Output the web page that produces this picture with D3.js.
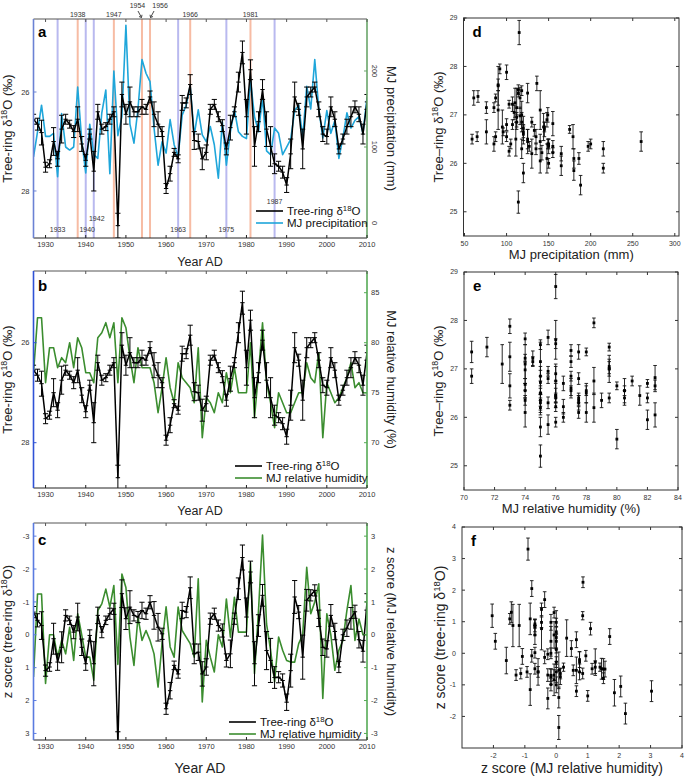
<!DOCTYPE html>
<html><head><meta charset="utf-8">
<script src="https://cdn.jsdelivr.net/npm/d3@7"></script>
<style>body{margin:0;background:#fff}svg{display:block;font-family:"Liberation Sans",Arial,Helvetica,sans-serif}</style>
</head><body><svg id="chart" width="685" height="778"></svg>
<script>
// ---------------- DATA ----------------
const years = d3.range(1927, 2011);
const d18O = [
 26.55,26.65,26.82,27.52,27.45,27.0,27.35,26.75,26.55,26.65,
 26.8,26.55,27.05,27.38,26.85,27.6,26.4,26.75,26.7,26.55,
 26.4,28.7,26.05,26.45,26.2,26.4,26.4,26.3,26.35,26.1,
 26.45,26.65,26.8,27.95,27.65,27.22,27.35,26.22,26.22,25.85,
 26.98,27.0,27.35,27.22,26.35,26.25,26.5,26.68,27.15,26.72,
 26.4,25.8,25.2,26.5,25.55,27.1,26.6,25.95,26.75,27.1,
 27.45,27.5,27.62,27.88,27.25,26.1,26.35,27.15,26.1,26.0,
 25.9,26.35,26.85,26.9,26.3,26.55,27.15,26.95,26.7,26.5,
 26.3,26.45,26.85,26.2];
const d18OErr = [
 0.1,0.12,0.25,0.1,0.08,0.28,0.15,0.28,0.1,0.08,
 0.12,0.25,0.15,0.12,0.1,0.4,0.15,0.1,0.08,0.1,
 0.1,0.25,0.25,0.2,0.3,0.1,0.1,0.15,0.1,0.12,
 0.25,0.25,0.1,0.1,0.15,0.08,0.08,0.15,0.1,0.2,
 0.18,0.15,0.22,0.15,0.1,0.1,0.1,0.12,0.12,0.25,
 0.1,0.2,0.23,0.35,0.2,0.4,0.2,0.2,0.35,0.4,
 0.2,0.1,0.12,0.15,0.3,0.3,0.12,0.4,0.2,0.1,
 0.1,0.15,0.15,0.15,0.2,0.15,0.1,0.1,0.15,0.2,
 0.12,0.15,0.2,0.15];
const precip = [
 87,120,155,114,114,118,61,144,100,96,
 100,179,109,66,130,90,85,145,175,65,
 200,115,140,260,130,105,150,215,197,186,
 125,76,107,92,136,103,87,142,155,180,
 116,149,116,107,127,103,59,133,76,120,
 149,120,114,111,188,140,120,165,95,90,
 125,118,90,100,110,148,155,112,180,150,
 215,150,112,148,118,135,85,112,145,125,
 135,140,118,165];
const rh = [
 77,82.5,82.5,76,79.5,79.5,77.5,78.5,78,80,
 77.5,80.5,79.5,77,77,76,80.5,81,82,80.5,
 82,76,82.5,81.5,78.5,76,79.5,77.5,77.5,77.5,
 76,73,75.5,78.5,75.5,74,78,76.5,76,75.5,
 74,79.5,70.5,74.5,74,73,75,74,77,75,
 77.5,75,75,75,80,72.5,77,82,76,74,
 71.5,75,74,73,73,74,75,75,78,76.5,
 76,79,70.5,76,75,74,74.5,75.5,76.5,78,
 75.5,76,75,75];
const zD18O = [
 -0.69,-0.44,-0.28,1.09,0.98,0.12,0.83,0.38,-0.59,-0.44,
 -0.08,-0.54,0.38,0.88,0.02,0.88,-0.59,-0.08,-0.44,-0.64,
 -0.79,3.3,-1.25,-0.49,-0.84,-0.59,-0.54,-0.74,-0.64,-0.99,
 -0.59,-0.23,-0.03,2.25,1.7,0.93,1.19,-0.74,-0.69,-1.43,
 0.58,0.53,1.19,0.98,-0.49,-0.64,-0.28,-0.13,0.78,0.58,
 -0.49,-1.4,-2.35,-0.54,-1.91,0.88,-0.28,-1.2,0.48,0.78,
 1.3,1.29,1.39,2.05,1.09,-1.15,-0.69,0.68,-1.05,-1.2,
 -1.35,-0.5,0.38,0.43,-0.59,-0.1,0.98,0.0,-0.2,-0.5,
 -0.7,0.15,0.5,-1.0];
const zD18OErr = [
 0.17,0.2,0.42,0.17,0.13,0.47,0.25,0.47,0.17,0.13,
 0.2,0.42,0.25,0.2,0.17,0.67,0.25,0.17,0.13,0.17,
 0.17,0.35,0.42,0.33,0.5,0.17,0.17,0.25,0.17,0.2,
 0.42,0.42,0.17,0.17,0.25,0.13,0.13,0.25,0.17,0.33,
 0.3,0.25,0.37,0.25,0.17,0.17,0.17,0.2,0.2,0.42,
 0.17,0.33,0.38,0.58,0.33,0.67,0.33,0.33,0.58,0.67,
 0.33,0.17,0.2,0.25,0.5,0.5,0.2,0.67,0.33,0.17,
 0.17,0.25,0.25,0.25,0.33,0.25,0.17,0.17,0.25,0.33,
 0.2,0.25,0.33,0.25];
const zRH = [
 -1.28,1.24,1.24,-1.48,0.0,0.0,-0.68,-0.17,-0.58,0.23,
 -0.78,0.64,0.0,-0.68,-0.68,-1.38,0.74,0.94,1.39,0.84,
 1.5,-0.9,1.85,1.44,-0.07,-0.93,0.54,-0.17,0.13,-0.17,
 -0.58,-1.59,-0.27,0.85,-0.37,-0.68,0.84,0.13,-0.07,-0.27,
 -0.68,1.7,-2.04,-0.17,-0.68,-1.13,0.0,-0.37,1.09,-0.07,
 1.14,0.08,0.08,0.08,2.2,-1.18,0.74,3.03,0.33,-0.47,
 -1.43,-0.07,-0.47,-0.78,-0.83,-0.83,-0.27,0.0,2.05,0.64,
 1.0,1.55,-1.94,0.64,0.0,-1.08,-0.47,-0.17,0.74,1.5,
 -0.17,0.48,0.0,0.0];
const wetYears = [1933,1940,1942,1963,1975,1987];
const dryYears = [1938,1947,1954,1956,1966,1981];
const decadeTicks = [1930,1940,1950,1960,1970,1980,1990,2000,2010];
const d18OTicks = [26,28];
const precipTicks = [0,100,200];
const rhTicks = [70,75,80,85];
const zTicks = [-3,-2,-1,0,1,2,3];

// ---------------- DRAW ----------------
const svg = d3.select("#chart");
const defs = svg.append("defs");
const X0 = 33.5, X1 = 367;
const x = d3.scaleLinear().domain([1927, 2010]).range([X0, X1]);
const FONT_TICK = 7.5;

function supText(sel, before, sup, after, fs) {
  sel.append("tspan").text(before);
  sel.append("tspan").attr("font-size", fs*0.68).attr("dy", -fs*0.38).text(sup);
  sel.append("tspan").attr("dy", fs*0.38).text(after);
}

function tsPanel(c) {
  const g = svg.append("g");
  defs.append("clipPath").attr("id", c.id).append("rect")
    .attr("x", X0).attr("y", c.top).attr("width", X1 - X0).attr("height", c.bottom - c.top);
  const clip = g.append("g").attr("clip-path", `url(#${c.id})`);
  if (c.extra) c.extra(clip, g);
  clip.append("path").datum(c.second)
    .attr("d", d3.line().x((d,i)=>x(years[i])).y(d=>c.yR(d)))
    .attr("fill","none").attr("stroke", c.secondColor).attr("stroke-width",1.6).attr("stroke-linejoin","round");
  clip.append("path").datum(c.main)
    .attr("d", d3.line().x((d,i)=>x(years[i])).y(d=>c.yL(d)))
    .attr("fill","none").attr("stroke","#000").attr("stroke-width",1.5).attr("stroke-linejoin","round");
  const eb = clip.append("g").attr("stroke","#000").attr("stroke-width",1);
  const pts = years.map((yr,i)=>({x:x(yr), v:c.main[i], e:c.mainErr[i]}));
  const capW = 2.6;
  eb.selectAll("line.v").data(pts).join("line").attr("x1",d=>d.x).attr("x2",d=>d.x)
    .attr("y1",d=>c.yL(d.v-d.e)).attr("y2",d=>c.yL(d.v+d.e));
  eb.selectAll("line.c1").data(pts).join("line").attr("x1",d=>d.x-capW).attr("x2",d=>d.x+capW)
    .attr("y1",d=>c.yL(d.v-d.e)).attr("y2",d=>c.yL(d.v-d.e));
  eb.selectAll("line.c2").data(pts).join("line").attr("x1",d=>d.x-capW).attr("x2",d=>d.x+capW)
    .attr("y1",d=>c.yL(d.v+d.e)).attr("y2",d=>c.yL(d.v+d.e));
  eb.selectAll("line.m").data(pts).join("line").attr("x1",d=>d.x-2.2).attr("x2",d=>d.x+2.2)
    .attr("y1",d=>c.yL(d.v)).attr("y2",d=>c.yL(d.v));

  g.append("line").attr("x1",X0).attr("x2",X1).attr("y1",c.top).attr("y2",c.top).attr("stroke","#555").attr("stroke-width",1);
  g.append("line").attr("x1",X0).attr("x2",X1).attr("y1",c.bottom).attr("y2",c.bottom).attr("stroke","#222").attr("stroke-width",1);
  g.append("line").attr("x1",X0).attr("x2",X0).attr("y1",c.top).attr("y2",c.bottom).attr("stroke",c.leftColor).attr("stroke-width",1.6);
  g.append("line").attr("x1",X1).attr("x2",X1).attr("y1",c.top).attr("y2",c.bottom).attr("stroke",c.rightColor).attr("stroke-width",1.6);

  decadeTicks.forEach(t=>{
    g.append("line").attr("x1",x(t)).attr("x2",x(t)).attr("y1",c.bottom).attr("y2",c.bottom-3).attr("stroke","#222");
    g.append("line").attr("x1",x(t)).attr("x2",x(t)).attr("y1",c.top).attr("y2",c.top+3).attr("stroke","#555");
    g.append("text").attr("x",x(t)).attr("y",c.bottom+9).attr("text-anchor","middle")
      .attr("font-size",FONT_TICK).attr("fill","#333").text(t);
  });
  c.leftTicks.forEach(t=>{
    g.append("line").attr("x1",X0).attr("x2",X0+3).attr("y1",c.yL(t)).attr("y2",c.yL(t)).attr("stroke",c.leftColor);
    g.append("text").attr("x",X0-4).attr("y",c.yL(t)+2.6).attr("text-anchor","end")
      .attr("font-size",FONT_TICK).attr("fill","#333").text(t);
  });
  c.rightTicks.forEach(t=>{
    g.append("line").attr("x1",X1).attr("x2",X1-3).attr("y1",c.yR(t)).attr("y2",c.yR(t)).attr("stroke",c.rightColor);
    if (c.rightRotate) {
      g.append("text").attr("transform",`translate(${X1+5},${c.yR(t)}) rotate(90)`).attr("text-anchor","middle")
        .attr("font-size",FONT_TICK).attr("fill","#333").text(t);
    } else {
      g.append("text").attr("x",X1+4).attr("y",c.yR(t)+2.6).attr("text-anchor","start")
        .attr("font-size",FONT_TICK).attr("fill","#333").text(t);
    }
  });
  g.append("text").attr("x",38).attr("y",c.letterY).attr("font-size",15).attr("font-weight","bold").text(c.letter);
  const mid = (c.top + c.bottom)/2;
  const lt = g.append("text").attr("transform",`translate(12,${mid}) rotate(-90)`).attr("text-anchor","middle")
    .attr("font-size",13).attr("fill","#222");
  c.leftTitle(lt);
  g.append("text").attr("transform",`translate(387,${mid}) rotate(90)`).attr("text-anchor","middle")
    .attr("font-size",13).attr("fill","#222").text(c.rightTitle);
  g.append("text").attr("x",200).attr("y",c.yearY).attr("text-anchor","middle").attr("font-size",c.yearFs||12.5).attr("fill","#222").text("Year AD");
  const lx = c.legendX, ly = c.legendY;
  g.append("line").attr("x1",lx).attr("x2",lx+27).attr("y1",ly).attr("y2",ly).attr("stroke","#000").attr("stroke-width",1.6);
  g.append("line").attr("x1",lx).attr("x2",lx+27).attr("y1",ly+12).attr("y2",ly+12).attr("stroke",c.secondColor).attr("stroke-width",1.6);
  const t1 = g.append("text").attr("x",lx+31).attr("y",ly+4).attr("font-size",11.5).attr("fill","#111");
  supText(t1, "Tree-ring δ", "18", "O", 11.5);
  g.append("text").attr("x",lx+31).attr("y",ly+16).attr("font-size",11.5).attr("fill","#111").text(c.legend2);
}

// Panel a
const yA = d3.scaleLinear().domain([24.525, 28.95]).range([19, 238]);
const yAR = d3.scaleLinear().domain([268.4, -19.7]).range([19, 238]);
tsPanel({
  id:"clipA", top:19, bottom:238, yL:yA, yR:yAR, main:d18O, mainErr:d18OErr, second:precip,
  secondColor:"#1fa6da", leftColor:"#6b82d4", rightColor:"#6aa56a",
  leftTicks:d18OTicks, rightTicks:precipTicks, rightRotate:true,
  letter:"a", letterY:37,
  leftTitle: s=>supText(s,"Tree-ring δ","18","O (‰)",13),
  rightTitle:"MJ precipitation (mm)", yearY:266,
  legendX:256, legendY:211, legend2:"MJ precipitation",
  extra:(clip,g)=>{
    wetYears.forEach(yr=>clip.append("line").attr("x1",x(yr)).attr("x2",x(yr)).attr("y1",19).attr("y2",238)
      .attr("stroke","#b9b9ef").attr("stroke-width",2));
    dryYears.forEach(yr=>clip.append("line").attr("x1",x(yr)).attr("x2",x(yr)).attr("y1",19).attr("y2",238)
      .attr("stroke","#f7bca4").attr("stroke-width",2));
  }
});
(function(){
  const g = svg.append("g").attr("font-size",7).attr("fill","#333").attr("text-anchor","middle");
  [[1938,17],[1947,17],[1966,17],[1981,17]].forEach(([yr,yy])=>g.append("text").attr("x",x(yr)).attr("y",yy).text(yr));
  g.append("text").attr("x",x(1954)-4.5).attr("y",8).text(1954);
  g.append("text").attr("x",x(1956)+10).attr("y",8).text(1956);
  const arr = g.append("g").attr("stroke","#333").attr("stroke-width",0.9).attr("fill","none");
  arr.append("path").attr("d",`M${x(1954)-4},11 L${x(1954)-0.5},17.5 M${x(1954)-3},16.5 L${x(1954)-0.5},17.5 L${x(1954)},14.8`);
  arr.append("path").attr("d",`M${x(1956)+4},11 L${x(1956)+0.5},17.5 M${x(1956)+3},16.5 L${x(1956)+0.5},17.5 L${x(1956)},14.8`);
  [[1933,232],[1940,232],[1963,232],[1975,232],[1942,221],[1987,204]].forEach(([yr,yy])=>{
    const dx = yr===1940 ? 1.5 : (yr===1942 ? 3 : 0);
    g.append("text").attr("x",x(yr)+dx).attr("y",yy).text(yr);
  });
})();

// Panel b
const yB = d3.scaleLinear().domain([24.566, 28.906]).range([271, 488]);
const yBR = d3.scaleLinear().domain([87.17, 65.47]).range([271, 488]);
tsPanel({
  id:"clipB", top:271, bottom:488, yL:yB, yR:yBR, main:d18O, mainErr:d18OErr, second:rh,
  secondColor:"#3b8d2f", leftColor:"#2f52d6", rightColor:"#55aa55",
  leftTicks:d18OTicks, rightTicks:rhTicks, rightRotate:false,
  letter:"b", letterY:291,
  leftTitle: s=>supText(s,"Tree-ring δ","18","O (‰)",13),
  rightTitle:"MJ relative humidity (%)", yearY:515,
  legendX:235, legendY:466, legend2:"MJ relative humidity"
});

// Panel c
const yC = d3.scaleLinear().domain([-3.4, 3.2]).range([523, 740]);
const yCR = d3.scaleLinear().domain([3.4, -3.2]).range([523, 740]);
tsPanel({
  id:"clipC", top:523, bottom:740, yL:yC, yR:yCR, main:zD18O, mainErr:zD18OErr, second:zRH,
  secondColor:"#3b8d2f", leftColor:"#5a7be0", rightColor:"#55aa55",
  leftTicks:zTicks, rightTicks:zTicks, rightRotate:false,
  letter:"c", letterY:545,
  leftTitle: s=>supText(s,"z socre (tree-ring δ","18","O)",13),
  rightTitle:"z score (MJ relative humidity)", yearY:773, yearFs:14,
  legendX:229, legendY:722, legend2:"MJ relative humidity"
});

// ---------------- SCATTER PANELS ----------------
function scatterPanel(o) {
  const sx = d3.scaleLinear().domain(o.xDom).range([o.x0, o.x1]);
  const sy = d3.scaleLinear().domain(o.yDom).range([o.y1, o.y0]);
  const g = svg.append("g");
  g.append("rect").attr("x",o.x0).attr("y",o.y0).attr("width",o.x1-o.x0).attr("height",o.y1-o.y0)
    .attr("fill","none").attr("stroke","#333").attr("stroke-width",1);
  o.xTicks.forEach(t=>{
    const px = sx(t);
    g.append("line").attr("x1",px).attr("x2",px).attr("y1",o.y1).attr("y2",o.y1-3).attr("stroke","#333");
    g.append("line").attr("x1",px).attr("x2",px).attr("y1",o.y0).attr("y2",o.y0+3).attr("stroke","#333");
    g.append("text").attr("x",px).attr("y",o.y1+10).attr("text-anchor","middle").attr("font-size",7).attr("fill","#333").text(t);
  });
  o.yTicks.forEach(t=>{
    const py = sy(t);
    g.append("line").attr("x1",o.x0).attr("x2",o.x0+3).attr("y1",py).attr("y2",py).attr("stroke","#333");
    g.append("line").attr("x1",o.x1).attr("x2",o.x1-3).attr("y1",py).attr("y2",py).attr("stroke","#333");
    g.append("text").attr("x",o.x0-6).attr("y",py+2.4).attr("text-anchor","end").attr("font-size",7).attr("fill","#333").text(t);
  });
  const pts = o.xs.map((v,i)=>({x:sx(v), y:sy(o.ys[i]), y1:sy(o.ys[i]-o.es[i]), y2:sy(o.ys[i]+o.es[i])}));
  const pg = g.append("g").attr("stroke","#111").attr("stroke-width",0.9);
  pg.selectAll("line.v").data(pts).join("line").attr("x1",d=>d.x).attr("x2",d=>d.x).attr("y1",d=>d.y1).attr("y2",d=>d.y2);
  pg.selectAll("line.a").data(pts).join("line").attr("x1",d=>d.x-1.8).attr("x2",d=>d.x+1.8).attr("y1",d=>d.y1).attr("y2",d=>d.y1);
  pg.selectAll("line.b").data(pts).join("line").attr("x1",d=>d.x-1.8).attr("x2",d=>d.x+1.8).attr("y1",d=>d.y2).attr("y2",d=>d.y2);
  g.append("g").attr("fill","#000").selectAll("rect").data(pts).join("rect")
    .attr("x",d=>d.x-1.4).attr("y",d=>d.y-1.4).attr("width",2.8).attr("height",2.8);
  g.append("text").attr("x",o.x0+9).attr("y",o.y0+19).attr("font-size",15).attr("font-weight","bold").text(o.letter);
  g.append("text").attr("x",(o.x0+o.x1)/2).attr("y",o.xTitleY).attr("text-anchor","middle").attr("font-size",o.xTitleFs||13).attr("fill","#222").text(o.xTitle);
  const yt = g.append("text").attr("transform",`translate(${o.yTitleX},${(o.y0+o.y1)/2}) rotate(-90)`)
    .attr("text-anchor","middle").attr("font-size",o.yTitleFs||13).attr("fill","#222");
  o.yTitle(yt);
}

scatterPanel({
  x0:463.5, x1:679, y0:18, y1:236, xDom:[48.8,305], yDom:[24.5,29],
  xTicks:[50,100,150,200,250,300], yTicks:[25,26,27,28,29],
  xs:precip, ys:d18O, es:d18OErr, letter:"d",
  xTitle:"MJ precipitation (mm)", xTitleY:259, yTitleX:443,
  yTitle:s=>supText(s,"Tree–ring δ","18","O (‰)",13)
});
scatterPanel({
  x0:464, x1:678, y0:272, y1:490, xDom:[70,84], yDom:[24.5,29],
  xTicks:[70,72,74,76,78,80,82,84], yTicks:[25,26,27,28,29],
  xs:rh, ys:d18O, es:d18OErr, letter:"e",
  xTitle:"MJ relative humidity (%)", xTitleY:513, yTitleX:443,
  yTitle:s=>supText(s,"Tree–ring δ","18","O (‰)",13)
});
scatterPanel({
  x0:462, x1:682, y0:527, y1:748, xDom:[-3,4], yDom:[-3,4],
  xTicks:[-2,-1,0,1,2,3,4], yTicks:[-2,-1,0,1,2,3,4],
  xs:zRH, ys:zD18O, es:zD18OErr, letter:"f",
  xTitle:"z score (MJ relative humidity)", xTitleY:773, xTitleFs:14, yTitleX:445, yTitleFs:14,
  yTitle:s=>supText(s,"z score (tree-ring δ","18","O)",14)
});
</script></body></html>
